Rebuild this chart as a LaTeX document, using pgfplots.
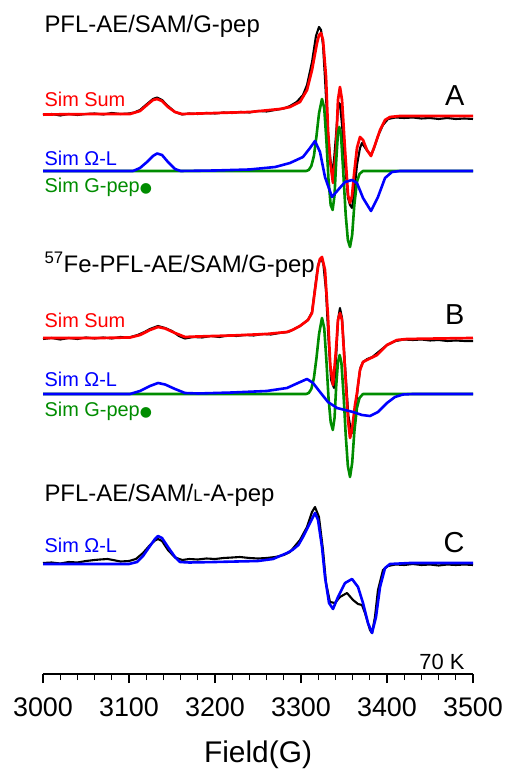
\documentclass[border=0pt]{standalone}
\usepackage{fontspec}
\setmainfont{Liberation Sans}
\newfontfamily\dejavu{DejaVu Sans}
\usepackage{pgfplots}
\pgfplotsset{compat=1.18}
\definecolor{simred}{RGB}{255,0,0}
\definecolor{simblue}{RGB}{0,0,255}
\definecolor{simgreen}{RGB}{0,140,0}
\newcommand{\fs}[1]{\fontsize{#1}{#1}\selectfont}

\begin{document}
\begin{tikzpicture}
\begin{axis}[name=ax,
  scale only axis, width=430bp, height=674bp,
  xmin=3000, xmax=3500, ymin=-674, ymax=0, clip=false,
  axis x line*=bottom, axis y line=none, ytick=\empty,
  xtick={3000,3100,...,3500}, minor x tick num=4,
  xtick align=outside, major tick length=9bp, minor tick length=6bp,
  axis line style={line width=1.3bp, black},
  every tick/.style={line width=1.3bp, black},
  scaled x ticks=false,
  /pgf/number format/1000 sep={},
  /pgf/number format/assume math mode=true,
  xticklabel style={font=\fs{27}, anchor=base, yshift=-33bp},
  every axis x label/.style={at={(axis description cs:0.5,0)}, anchor=base, yshift=-88bp},
  xlabel={Field(G)}, xlabel style={font=\fs{30}},
  every node/.append style={inner sep=0pt},
  line join=round,
]
% ---------------- Spectrum A ----------------
\addplot[black, line width=2.1bp] coordinates {
(3000,-115) (3010,-114) (3020,-115.5) (3030,-114) (3040,-115) (3050,-114) (3060,-113.5) (3070,-114.5) (3080,-113) (3090,-114) (3100,-113.5) (3106,-112.5) (3112.8,-110) (3120.9,-104) (3127.9,-99) (3132.6,-97.5) (3138.4,-100) (3145.3,-106) (3153.5,-112) (3161.6,-114.5) (3170,-113.5) (3180,-114) (3190,-113) (3200,-113.5) (3210,-112.5) (3220,-113) (3230,-112) (3240,-112.5) (3250,-111) (3260,-111.5) (3270,-110) (3280,-108.5) (3287.2,-106) (3295,-102) (3302.3,-95) (3307,-85) (3312.8,-62) (3317.4,-36) (3320.9,-27) (3323.3,-30) (3325.6,-45) (3328,-80) (3331.4,-135) (3334.9,-165) (3336.5,-171) (3338.4,-160) (3340.7,-135) (3343,-108) (3344.2,-103) (3345.3,-104) (3347.7,-125) (3351.2,-165) (3354.7,-198) (3357,-205) (3359.3,-208) (3361.6,-195) (3365.1,-165) (3368.6,-148) (3370.9,-143) (3374,-147) (3378,-152) (3381.4,-155) (3385,-148) (3390,-135) (3395.3,-125) (3401.2,-119) (3410,-117.5) (3420,-118) (3430,-117.5) (3440,-118.5) (3450,-118) (3460,-119) (3470,-118) (3480,-119) (3490,-118.5) (3500,-119)
};
\addplot[simred, line width=2.7bp] coordinates {
(3000,-114.5) (3066.3,-114) (3101.2,-114) (3112.8,-111) (3120.9,-105) (3127.9,-100) (3132.6,-99) (3138.4,-101) (3145.3,-107) (3153.5,-112) (3161.6,-114) (3182.6,-113.5) (3240.7,-112) (3275.6,-109) (3287.2,-107) (3298.8,-102) (3307,-90) (3312.8,-70) (3318.6,-43) (3321,-35) (3323.3,-33) (3325.6,-40) (3329.1,-77) (3331.4,-130) (3333.7,-160) (3337.2,-183) (3340.7,-150) (3343,-100) (3345.3,-87) (3347.7,-100) (3351.2,-150) (3354.7,-195) (3357,-203) (3359.3,-196) (3361.6,-175) (3365.1,-148) (3368.6,-137) (3372.1,-140) (3376.7,-150) (3381.4,-156) (3386,-145) (3391.9,-130) (3397.7,-120) (3403.5,-117) (3415.1,-116) (3500,-116)
};
\addplot[simgreen, line width=2.6bp] coordinates {
(3000,-171) (3306,-171) (3309,-170) (3312,-166) (3315,-156) (3318,-136) (3321,-113) (3324.4,-99) (3327,-108) (3329.5,-140) (3332,-180) (3334.5,-205) (3336.8,-210) (3339,-195) (3341,-160) (3343,-133) (3344.5,-127) (3346.5,-135) (3349,-170) (3352,-215) (3354.5,-240) (3357,-247) (3359.5,-235) (3362,-205) (3365,-182) (3368,-174) (3372,-171) (3500,-171)
};
\addplot[simblue, line width=2.6bp] coordinates {
(3000,-171) (3104.7,-171) (3112.8,-168) (3120.9,-162) (3127.9,-156) (3132.6,-153.5) (3138.4,-155) (3145.3,-162) (3153.5,-169) (3160,-171) (3200,-170.5) (3240,-169.5) (3270,-167) (3287.2,-163) (3302.3,-157) (3310.5,-148) (3316.3,-141) (3322.1,-152) (3327.9,-177) (3336,-197) (3343,-190) (3351.2,-182) (3359.3,-180) (3365.1,-183) (3372.1,-198) (3381.4,-211) (3389.5,-197) (3397.7,-178) (3405.8,-172) (3415,-171) (3500,-171)
};
% ---------------- Spectrum B ----------------
\addplot[black, line width=2.1bp] coordinates {
(3000,-339) (3010,-338) (3020,-339.5) (3030,-338) (3040,-339) (3050,-337.5) (3060,-338.5) (3070,-337.5) (3080,-338.5) (3090,-337) (3100,-337.5) (3110,-335) (3118,-332) (3124.4,-329) (3133.7,-326) (3142,-328) (3150,-331) (3158,-336) (3165,-338.5) (3175,-337) (3185,-337.5) (3195,-336) (3205,-337) (3215,-335.5) (3225,-336) (3235,-335) (3245,-335.5) (3255,-334) (3265,-334.5) (3275,-333) (3285,-332) (3290,-330) (3298.8,-326) (3308.1,-320) (3312.8,-312) (3316.3,-288) (3319.8,-265) (3323.3,-258) (3326,-264) (3329,-290) (3332,-340) (3335,-380) (3338.4,-388) (3340.7,-360) (3343,-320) (3345.3,-308) (3347.7,-318) (3351.2,-365) (3355,-415) (3358,-430) (3360.5,-433) (3363,-415) (3366.3,-385) (3369,-368) (3372.1,-362) (3377,-359) (3383,-357) (3390,-352) (3400,-345) (3410,-341) (3420,-339.5) (3430,-340) (3440,-339.5) (3450,-340.5) (3460,-340) (3470,-341) (3480,-340.5) (3490,-341) (3500,-341)
};
\addplot[simred, line width=2.7bp] coordinates {
(3000,-338) (3066,-338) (3101.2,-337.5) (3112.8,-335) (3124.4,-330) (3133.7,-327) (3142,-328.5) (3153.5,-333) (3165.1,-337) (3180,-336.5) (3220,-335.5) (3260,-334) (3283.7,-332) (3290,-330) (3298.8,-326) (3308.1,-320) (3312.8,-313) (3316.3,-290) (3319.8,-267) (3322,-259) (3324.4,-257) (3327.9,-270) (3331.4,-317) (3334,-365) (3337.2,-385) (3340.7,-350) (3343,-320) (3345.3,-313) (3347.7,-320) (3351.2,-370) (3354.7,-420) (3357,-438) (3359.3,-430) (3362.8,-405) (3365.1,-393) (3368.6,-370) (3372.1,-362) (3376.7,-360) (3388.4,-355) (3400,-345) (3411.6,-340) (3423.3,-339) (3500,-338)
};
\addplot[simgreen, line width=2.6bp] coordinates {
(3000,-394) (3306,-394) (3309,-393) (3312,-389) (3315,-378) (3318,-358) (3321,-334) (3324.4,-318) (3327,-328) (3329.5,-360) (3332,-398) (3334.5,-422) (3337,-430) (3339,-418) (3341,-385) (3343,-362) (3345,-355) (3347,-363) (3349.5,-395) (3352,-435) (3354.5,-466) (3357,-477) (3359.5,-463) (3362,-432) (3365,-408) (3368,-398) (3372,-394) (3500,-394)
};
\addplot[simblue, line width=2.6bp] coordinates {
(3000,-394) (3101.2,-394) (3112.8,-391) (3124.4,-386) (3133.7,-383) (3142,-384.5) (3153.5,-389) (3165.1,-393) (3180,-393.5) (3220,-392.5) (3260,-391) (3283.7,-388) (3296.5,-383) (3307,-379) (3314,-383) (3322.1,-392) (3331.4,-402) (3341.9,-408) (3351.2,-410) (3360.5,-412) (3370.9,-415) (3380.2,-416) (3389.5,-412) (3400,-403) (3409.3,-397) (3418.6,-394.5) (3430,-394) (3500,-394)
};
% ---------------- Spectrum C ----------------
\addplot[black, line width=2.1bp] coordinates {
(3000,-563) (3010,-562.5) (3020,-563.5) (3030,-562) (3040,-562.5) (3050,-561) (3060,-560) (3066.3,-559.5) (3075,-559) (3081.4,-560) (3090,-561.5) (3100,-561) (3108,-559) (3116.3,-553) (3124.4,-545) (3130.2,-540.5) (3133.7,-539) (3138.4,-541) (3145.3,-550) (3153.5,-557.5) (3162,-560) (3170,-559) (3180,-559.5) (3190,-558.5) (3200,-559) (3210,-558) (3220,-557.5) (3229,-557) (3240,-558) (3250,-558.5) (3260,-558) (3270,-557) (3280,-555) (3287.2,-552) (3298.8,-540) (3307,-527) (3312.8,-512) (3316.3,-507) (3320.9,-517) (3325.6,-550) (3329.1,-583) (3333.7,-602) (3339.5,-603) (3345.3,-597) (3353.5,-593) (3360.5,-600) (3366.3,-604) (3370.9,-605) (3374.4,-613) (3380.2,-630) (3382.6,-633) (3386,-617) (3389.5,-590) (3395.3,-570) (3401.2,-566) (3410,-564.5) (3420,-565) (3430,-564) (3440,-565) (3450,-564.5) (3460,-565.5) (3470,-564.5) (3480,-565) (3490,-564.5) (3500,-565)
};
\addplot[simblue, line width=2.6bp] coordinates {
(3000,-564) (3100,-564) (3109.3,-562) (3116.3,-556) (3124.4,-546) (3130.2,-539) (3133.7,-536) (3138.4,-538) (3145.3,-547) (3153.5,-557) (3159.3,-562) (3170,-562.5) (3200,-562) (3250,-561) (3267.4,-559) (3283.7,-553) (3290,-550) (3297,-545) (3302.3,-537) (3310.5,-523) (3316.3,-513) (3319.8,-520) (3324.4,-547) (3327.9,-577) (3332.6,-603) (3337.2,-609) (3343,-597) (3351.2,-583) (3359.3,-579) (3366.3,-587) (3372.1,-603) (3377.9,-623) (3382.6,-633) (3387.2,-617) (3391.9,-587) (3397.7,-568) (3403.5,-564) (3426.7,-563) (3500,-563)
};
% ---------------- Labels ----------------
\node[anchor=base west, font=\fs{24}] at (axis cs:2997.7,-33) {PFL-AE/SAM/G-pep};
\node[anchor=base west, font=\fs{20}, text=simred] at (axis cs:2997.7,-107) {Sim Sum};
\node[anchor=base east, font=\fs{29}] at (axis cs:3494.2,-106) {A};
\node[anchor=base west, font=\fs{20}, text=simblue] at (axis cs:2997.7,-166) {Sim Ω-L};
\node[anchor=base west, font=\fs{20}, text=simgreen] at (axis cs:2997.7,-193) {Sim G-pep{\dejavu\fs{14}●}};

\node[anchor=base west, font=\fs{24}] at (axis cs:2997.7,-273) {\textsuperscript{57}Fe-PFL-AE/SAM/G-pep};
\node[anchor=base west, font=\fs{20}, text=simred] at (axis cs:2997.7,-328) {Sim Sum};
\node[anchor=base east, font=\fs{29}] at (axis cs:3494.2,-325) {B};
\node[anchor=base west, font=\fs{20}, text=simblue] at (axis cs:2997.7,-387) {Sim Ω-L};
\node[anchor=base west, font=\fs{20}, text=simgreen] at (axis cs:2997.7,-417) {Sim G-pep{\dejavu\fs{14}●}};

\node[anchor=base west, font=\fs{24}] at (axis cs:2997.7,-502) {PFL-AE/SAM/{\fs{17}L}-A-pep};
\node[anchor=base west, font=\fs{20}, text=simblue] at (axis cs:2997.7,-553) {Sim Ω-L};
\node[anchor=base east, font=\fs{29}] at (axis cs:3494.2,-553) {C};
\node[anchor=base east, font=\fs{22}] at (axis cs:3494.2,-669) {70 K};
\end{axis}
\pgfresetboundingbox
\path ([shift={(-43bp,-97bp)}]ax.south west) rectangle ([shift={(34bp,0bp)}]ax.north east);
\end{tikzpicture}
\end{document}
